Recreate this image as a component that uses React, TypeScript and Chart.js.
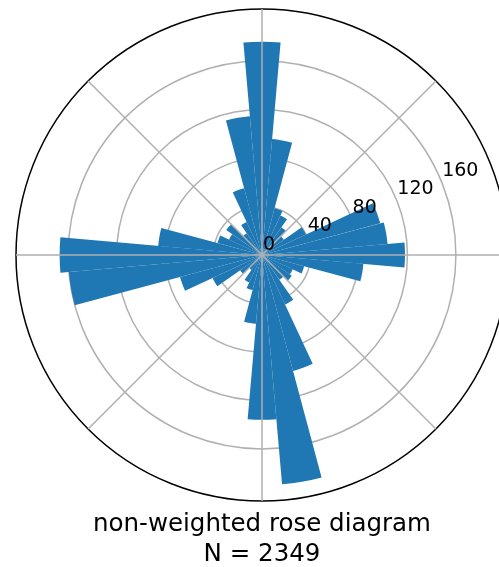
import { useEffect, useRef } from 'react';
import { Chart, registerables } from 'chart.js';

Chart.register(...registerables);

// Bin centres in degrees, counter-clockwise from east (10° bins).
const binCenters = [
  0, 10, 20, 30, 40, 50, 60, 70, 80, 90, 100, 110, 120, 130, 140, 150, 160, 170,
  180, 190, 200, 210, 220, 230, 240, 250, 260, 270, 280, 290, 300, 310, 320, 330, 340, 350,
];

// Number of observations falling in each bin.
const counts = [
  118, 104, 101, 40, 22, 28, 36, 40, 96, 176, 115, 57, 30, 22, 36, 30, 38, 86,
  167, 160, 70, 45, 22, 15, 25, 30, 57, 136, 190, 99, 45, 25, 30, 28, 36, 84,
];

const ringTicks = [0, 40, 80, 120, 160];
const radialMax = 203;
const spokeAngles = [0, 45, 90, 135, 180, 225, 270, 315];
const labelAngle = 22.5;
const titleLines = ['non-weighted rose diagram', 'N = 2349'];

const barColor = '#1f77b4';
const gridColor = '#b0b0b0';
const fontFamily = '"DejaVu Sans", "Liberation Sans", sans-serif';

const spokesPlugin = {
  id: 'roseSpokes',
  afterDatasetsDraw(chart: any) {
    const s = chart.scales.r;
    const ctx = chart.ctx;
    ctx.save();
    ctx.strokeStyle = gridColor;
    ctx.lineWidth = 1.5;
    ctx.beginPath();
    for (const a of spokeAngles) {
      const rad = (a * Math.PI) / 180;
      ctx.moveTo(s.xCenter, s.yCenter);
      ctx.lineTo(s.xCenter + Math.cos(rad) * s.drawingArea, s.yCenter - Math.sin(rad) * s.drawingArea);
    }
    ctx.stroke();
    ctx.restore();
  },
};

const radialLabelsPlugin = {
  id: 'roseRadialLabels',
  afterDraw(chart: any) {
    const s = chart.scales.r;
    const ctx = chart.ctx;
    const rad = (labelAngle * Math.PI) / 180;
    ctx.save();
    ctx.fillStyle = '#000';
    ctx.font = `19px ${fontFamily}`;
    ctx.textAlign = 'left';
    ctx.textBaseline = 'alphabetic';
    for (const v of ringTicks) {
      const d = s.getDistanceFromCenterForValue(v);
      const x = s.xCenter + Math.cos(rad) * d + 1;
      const y = s.yCenter - Math.sin(rad) * d - 5;
      ctx.fillText(String(v), x, y);
    }
    ctx.restore();
  },
};

export default function App() {
  const canvasRef = useRef<HTMLCanvasElement | null>(null);

  useEffect(() => {
    const canvas = canvasRef.current;
    if (!canvas) return;

    // Chart.js polar area runs clockwise from the top, so walk the bins
    // clockwise starting with the northern one.
    const binWidth = 360 / binCenters.length;
    const ordered = binCenters.map((_, i) => {
      const dir = (((90 - i * binWidth) % 360) + 360) % 360;
      return binCenters.indexOf(dir);
    });
    const labels = ordered.map((k) => `${binCenters[k]}°`);
    const values = ordered.map((k) => counts[k]);

    const chart = new Chart(canvas, {
      type: 'polarArea',
      data: {
        labels,
        datasets: [
          {
            data: values,
            backgroundColor: barColor,
            borderWidth: 0,
          },
        ],
      },
      options: {
        responsive: false,
        animation: false,
        layout: { padding: { top: 9, left: 15, right: 15, bottom: 10 } },
        scales: {
          r: {
            min: 0,
            max: radialMax,
            startAngle: -binWidth / 2,
            z: 1,
            ticks: { display: false, stepSize: 40 },
            pointLabels: { display: false },
            angleLines: { display: false },
            grid: {
              circular: true,
              lineWidth: 1.5,
              color: (c: any) => (c.tick && c.tick.value >= radialMax ? '#000' : gridColor),
            },
          },
        },
        plugins: {
          legend: { display: false },
          tooltip: { enabled: false },
          title: {
            display: true,
            position: 'bottom',
            text: titleLines,
            color: '#000',
            font: { family: fontFamily, size: 24.5, weight: 'normal', lineHeight: 1.23 },
            padding: { top: 7, bottom: 0 },
          },
        },
      },
      plugins: [spokesPlugin, radialLabelsPlugin],
    });

    return () => chart.destroy();
  }, []);

  return (
    <div
      style={{
        position: 'absolute',
        left: 0,
        top: 0,
        width: 499,
        height: 567,
        overflow: 'hidden',
        background: '#fff',
      }}
    >
      <canvas ref={canvasRef} width={524} height={580} style={{ width: 524, height: 580, display: 'block' }} />
    </div>
  );
}
